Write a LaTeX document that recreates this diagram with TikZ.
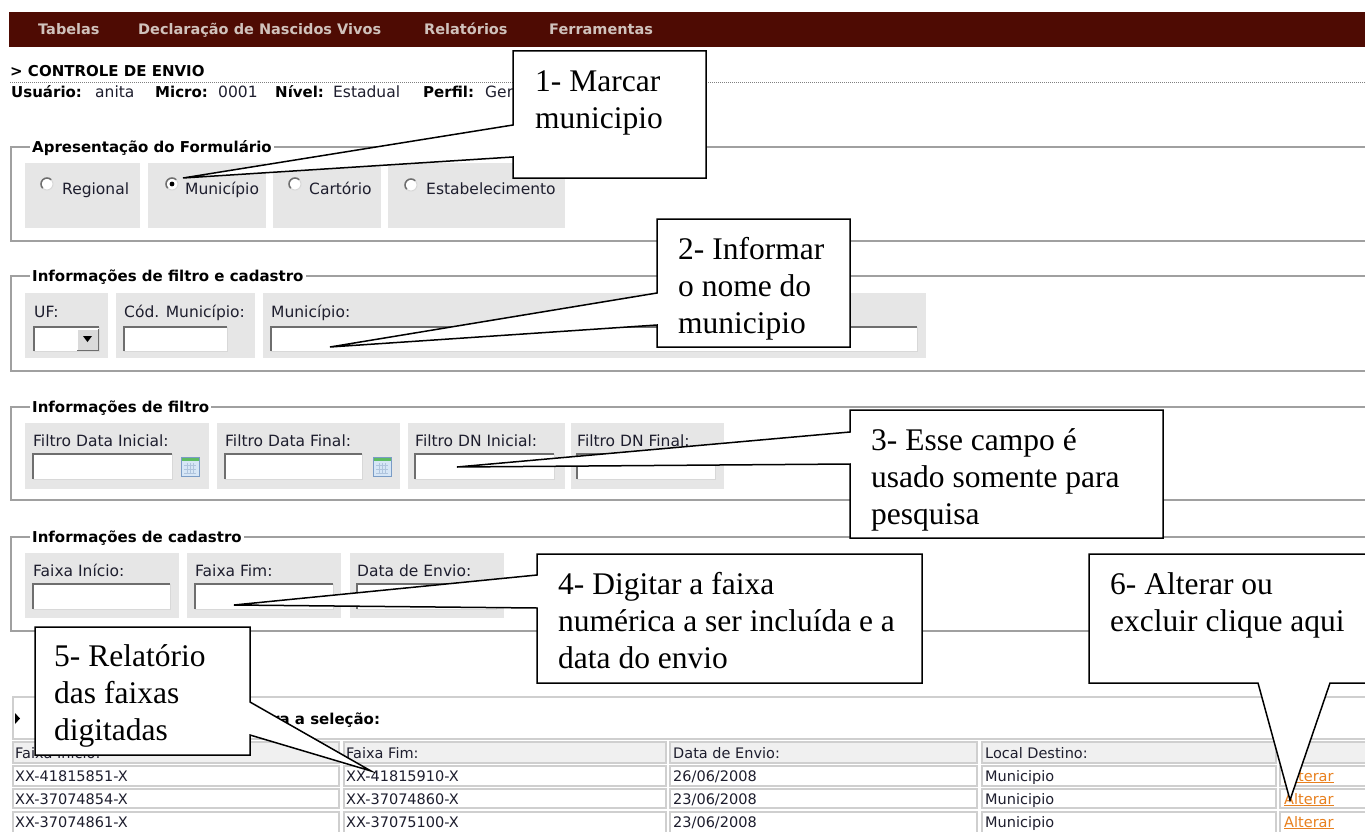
\documentclass[tikz,border=0pt]{standalone}
\usepackage{fontspec}
\newfontfamily\uifont{DejaVu Sans}
\newfontfamily\cofont{Liberation Serif}
\definecolor{barcol}{HTML}{4E0B03}
\definecolor{menutxt}{HTML}{D0C2BC}
\definecolor{txt}{HTML}{1E1E2E}
\definecolor{fsgray}{HTML}{A0A0A0}
\definecolor{boxgray}{HTML}{E6E6E6}
\definecolor{inpdark}{HTML}{6E6E6E}
\definecolor{inplight}{HTML}{D8D8D8}
\definecolor{cellgray}{HTML}{CFCFCF}
\definecolor{hdrfill}{HTML}{F0F0F0}
\definecolor{linkcol}{HTML}{E8801E}
\definecolor{calblue}{HTML}{D6E6F6}
\definecolor{calborder}{HTML}{7A9CC6}
\definecolor{calgreen}{HTML}{5DBB63}
\newcommand\myinput[4]{%
  \fill[white] (#1,#2) rectangle (#3,#4);
  \draw[inplight, line width=1pt] (#3,#2) -- (#3,#4) -- (#1,#4);
  \draw[inpdark, line width=1.6pt] (#1,#4) -- (#1,#2) -- (#3,#2);
}
\newcommand\myradio[2]{%
  \fill[white] (#1,#2) circle (6);
  \draw[inplight, line width=1pt] (#1,#2) circle (6);
  \draw[inpdark, line width=1.5pt] ([shift={(-45:6)}]#1,#2) arc[start angle=-45, end angle=-225, radius=6];
}
\newcommand\mycal[2]{%
  \fill[calblue] (#1,#2) rectangle ++(18,19);
  \fill[calgreen] (#1,#2) rectangle ++(18,4);
  \draw[calborder, line width=0.8pt] (#1,#2) rectangle ++(18,19);
  \draw[calborder!60, line width=0.5pt] ([shift={(3,8)}]#1,#2) -- ++(12,0) ([shift={(3,12)}]#1,#2) -- ++(12,0) ([shift={(3,16)}]#1,#2) -- ++(12,0)
    ([shift={(6,6)}]#1,#2) -- ++(0,11) ([shift={(9,6)}]#1,#2) -- ++(0,11) ([shift={(12,6)}]#1,#2) -- ++(0,11);
}
\begin{document}
\begin{tikzpicture}[x=1pt,y=-1pt,
  lbl/.style={font=\uifont\fontsize{15.5}{18}\selectfont, anchor=base west, inner sep=0pt, text=txt},
  lblb/.style={font=\uifont\bfseries\fontsize{15}{18}\selectfont, anchor=base west, inner sep=0pt, text=black},
  legend/.style={font=\uifont\bfseries\fontsize{15}{18}\selectfont, anchor=base west, inner xsep=2pt, inner ysep=1pt, fill=white, text=black},
  menu/.style={font=\uifont\bfseries\fontsize{14.5}{17}\selectfont, anchor=base west, inner sep=0pt, text=menutxt},
  cell/.style={font=\uifont\fontsize{14.5}{17}\selectfont, anchor=base west, inner sep=0pt, text=txt},
  link/.style={font=\uifont\fontsize{14.5}{17}\selectfont, anchor=base west, inner sep=0pt, text=linkcol},
  fset/.style={draw=fsgray, line width=1.2pt},
  gbox/.style={fill=boxgray},
  cellbox/.style={draw=cellgray, line width=1.5pt, fill=white},
  hdrbox/.style={draw=cellgray, line width=1.5pt, fill=hdrfill},
  cbox/.style={draw=black, line width=1.5pt, fill=white, line join=miter},
  ctext/.style={font=\cofont\fontsize{31.5}{37}\selectfont, anchor=base west, inner sep=0pt, text=black}
]
\useasboundingbox (0,0) rectangle (1365,832);
\fill[white] (0,0) rectangle (1365,832);
\clip (0,0) rectangle (1365,832);

% menu bar
\fill[barcol] (9,12) rectangle (1365,47);
\node[menu] (m1) at (38,35) {Tabelas};
\node[menu] (m2) at (138,35) {Declaração de Nascidos Vivos};
\node[menu] (m3) at (424,35) {Relatórios};
\node[menu] (m4) at (549,35) {Ferramentas};

% header
\node[lblb] (title) at (10,77) {> CONTROLE DE ENVIO};
\draw[gray, line width=0.8pt, dash pattern=on 1pt off 1pt] (10,82) -- (1365,82);
\node[lblb] (u1) at (11,98) {Usuário:};
\node[lbl] (u2) at (95,98) {anita};
\node[lblb] (u3) at (155,98) {Micro:};
\node[lbl] (u4) at (218,98) {0001};
\node[lblb] (u5) at (275,98) {Nível:};
\node[lbl] (u6) at (333,98) {Estadual};
\node[lblb] (u7) at (423,98) {Perfil:};
\node[lbl] (u8) at (485,98) {Ger};

% fieldset 1
\draw[fset] (11,147) rectangle (1400,241);
\node[legend] (f1) at (30,153) {Apresentação do Formulário};
\fill[gbox] (25,163) rectangle (140,228);
\fill[gbox] (148,163) rectangle (266,228);
\fill[gbox] (273,163) rectangle (381,228);
\fill[gbox] (388,163) rectangle (565,228);
\myradio{47}{184}
\myradio{172}{184}
\fill[black] (172,184) circle (2.4);
\myradio{295}{184}
\myradio{411}{185}
\node[lbl] (r1) at (62,194) {Regional};
\node[lbl] (r2) at (185,194) {Município};
\node[lbl] (r3) at (309,194) {Cartório};
\node[lbl] (r4) at (426,194) {Estabelecimento};

% fieldset 2
\draw[fset] (11,276) rectangle (1400,371);
\node[legend] (f2) at (30,281) {Informações de filtro e cadastro};
\fill[gbox] (25,293) rectangle (108,358);
\fill[gbox] (116,293) rectangle (255,358);
\fill[gbox] (263,293) rectangle (926,358);
\node[lbl] (l21) at (34,317) {UF:};
\node[lbl] (l22) at (124,317) {Cód. Município:};
\node[lbl] (l23) at (271,317) {Município:};
\myinput{34}{327}{99}{351}
\fill[hdrfill!80!gray] (77,329) rectangle (98,350);
\draw[white, line width=1pt] (77,350) -- (77,329) -- (98,329);
\draw[inpdark, line width=1pt] (98,329) -- (98,350) -- (77,350);
\fill[black] (83,336) -- (92,336) -- (87.5,342) -- cycle;
\myinput{124}{327}{227}{351}
\myinput{271}{327}{917}{351}

% fieldset 3
\draw[fset] (11,407) rectangle (1400,500);
\node[legend] (f3) at (30,412) {Informações de filtro};
\fill[gbox] (25,423) rectangle (209,489);
\fill[gbox] (217,423) rectangle (400,489);
\fill[gbox] (408,423) rectangle (565,489);
\fill[gbox] (571,423) rectangle (724,489);
\node[lbl] (l31) at (33,446) {Filtro Data Inicial:};
\node[lbl] (l32) at (225,446) {Filtro Data Final:};
\node[lbl] (l33) at (415,446) {Filtro DN Inicial:};
\node[lbl] (l34) at (577,446) {Filtro DN Final:};
\myinput{33}{454}{172}{479}
\myinput{225}{454}{362}{479}
\myinput{415}{454}{554}{479}
\myinput{577}{454}{715}{479}
\mycal{181}{457}
\mycal{373}{457}

% fieldset 4
\draw[fset] (11,537) rectangle (1400,631);
\node[legend] (f4) at (30,542) {Informações de cadastro};
\fill[gbox] (25,553) rectangle (179,618);
\fill[gbox] (187,553) rectangle (341,618);
\fill[gbox] (350,553) rectangle (504,618);
\node[lbl] (l41) at (33,576) {Faixa Início:};
\node[lbl] (l42) at (195,576) {Faixa Fim:};
\node[lbl] (l43) at (357,576) {Data de Envio:};
\myinput{33}{584}{170}{609}
\myinput{195}{584}{333}{609}
\myinput{357}{584}{496}{609}

% table panel
\draw[cellgray, line width=1.5pt] (13,697) rectangle (1400,739);
\fill[black] (15,713) -- (20,718.5) -- (15,724) -- cycle;
\node[lblb] (sel) at (272,724) {ra a seleção:};

% table cells
\foreach \xa/\xb in {13/339, 344/666, 670/977, 982/1276, 1280/1400} {
  \draw[hdrbox] (\xa,742) rectangle (\xb,763);
  \draw[cellbox] (\xa,766) rectangle (\xb,786);
  \draw[cellbox] (\xa,789) rectangle (\xb,808);
  \draw[cellbox] (\xa,812) rectangle (\xb,834);
}
\node[cell] (h1) at (15,758) {Faixa Início:};
\node[cell] (h2) at (346,758) {Faixa Fim:};
\node[cell] (h3) at (673,758) {Data de Envio:};
\node[cell] (h4) at (985,758) {Local Destino:};
\node[cell] (a1) at (15,781) {XX-41815851-X};
\node[cell] (a2) at (346,781) {XX-41815910-X};
\node[cell] (a3) at (673,781) {26/06/2008};
\node[cell] (a4) at (985,781) {Municipio};
\node[link] (a5) at (1284,781) {\underline{Alterar}};
\node[cell] (b1) at (15,804) {XX-37074854-X};
\node[cell] (b2) at (346,804) {XX-37074860-X};
\node[cell] (b3) at (673,804) {23/06/2008};
\node[cell] (b4) at (985,804) {Municipio};
\node[link] (b5) at (1284,804) {\underline{Alterar}};
\node[cell] (c1) at (15,827) {XX-37074861-X};
\node[cell] (c2) at (346,827) {XX-37075100-X};
\node[cell] (c3) at (673,827) {23/06/2008};
\node[cell] (c4) at (985,827) {Municipio};
\node[link] (c5) at (1284,827) {\underline{Alterar}};

% callouts
\coordinate (t1) at (183,178);
\coordinate (t2) at (330,347);
\coordinate (t3) at (457,467);
\coordinate (t4) at (234,605);
\coordinate (t5) at (371,771);
\coordinate (t6) at (1290,800);

\draw[cbox] (513,51) -- (706,51) -- (706,178) -- (513,178) -- (513,157) -- (t1) -- (513,125) -- cycle;
\node[ctext] (k1a) at (535,92) {1- Marcar};
\node[ctext] (k1b) at (535,129) {municipio};

\draw[cbox] (657,219) -- (850,219) -- (850,347) -- (657,347) -- (657,325) -- (t2) -- (657,293) -- cycle;
\node[ctext] (k2a) at (678,259) {2- Informar};
\node[ctext] (k2b) at (678,296) {o nome do};
\node[ctext] (k2c) at (678,333) {municipio};

\draw[cbox] (850,410) -- (1163,410) -- (1163,538) -- (850,538) -- (850,464) -- (t3) -- (850,432) -- cycle;
\node[ctext] (k3a) at (871,450) {3- Esse campo é};
\node[ctext] (k3b) at (871,487) {usado somente para};
\node[ctext] (k3c) at (871,524) {pesquisa};

\draw[cbox] (537,554) -- (922,554) -- (922,683) -- (537,683) -- (537,608) -- (t4) -- (537,575) -- cycle;
\node[ctext] (k4a) at (558,594) {4- Digitar a faixa};
\node[ctext] (k4b) at (558,631) {numérica a ser incluída e a};
\node[ctext] (k4c) at (558,668) {data do envio};

\draw[cbox] (35,627) -- (250,627) -- (250,702) -- (t5) -- (250,735) -- (250,755) -- (35,755) -- cycle;
\node[ctext] (k5a) at (54,666) {5- Relatório};
\node[ctext] (k5b) at (54,703) {das faixas};
\node[ctext] (k5c) at (54,740) {digitadas};

\draw[cbox] (1089,554) -- (1400,554) -- (1400,683) -- (1330,683) -- (t6) -- (1258,683) -- (1089,683) -- cycle;
\node[ctext] (k6a) at (1110,594) {6- Alterar ou};
\node[ctext] (k6b) at (1110,631) {excluir clique aqui};
\end{tikzpicture}
\end{document}
